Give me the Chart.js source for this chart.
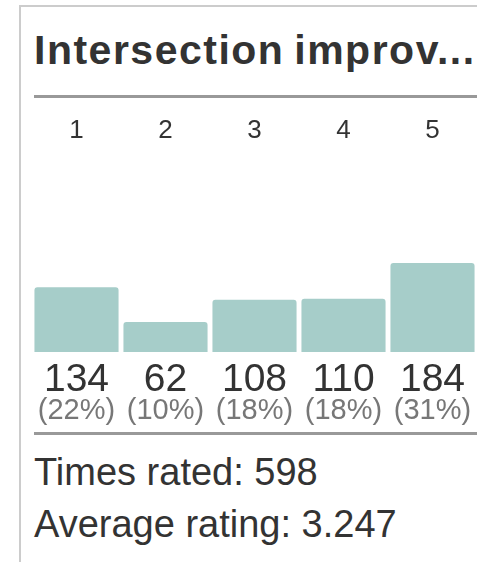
<!DOCTYPE html>
<html><head><meta charset="utf-8">
<script src="https://cdn.jsdelivr.net/npm/chart.js@4"></script>
<style>
html,body{margin:0;padding:0;background:#fff;width:477px;height:562px;overflow:hidden;font-family:"Liberation Sans",Arial,sans-serif;}
#frame{position:absolute;left:19px;top:5px;width:480px;height:600px;border-left:2px solid #ccc;border-top:2px solid #ccc;}
.t{position:absolute;left:34px;white-space:nowrap;line-height:1;color:#333;}
#title{top:30px;font-size:41px;font-weight:bold;letter-spacing:1.5px;word-spacing:-3px;}
.rule{position:absolute;left:34px;width:443px;height:3px;background:#999;}
#f1{top:453px;font-size:38px;}
#f2{top:504.5px;font-size:38px;}
#wrap{position:absolute;left:32px;top:100px;width:445px;height:330px;}
</style></head>
<body>
<div id="frame"></div>
<div class="t" id="title">Intersection improv...</div>
<div class="rule" style="top:95px"></div>
<div id="wrap"><canvas id="c" width="445" height="330"></canvas></div>
<div class="rule" style="top:432px"></div>
<div class="t" id="f1">Times rated: 598</div>
<div class="t" id="f2">Average rating: 3.247</div>
<script>
const categories = ["1", "2", "3", "4", "5"];
const counts = [134, 62, 108, 110, 184];
const pctLabels = ["(22%)", "(10%)", "(18%)", "(18%)", "(31%)"];

const valueLabels = {
  id: 'valueLabels',
  afterDatasetsDraw(chart) {
    const ctx = chart.ctx;
    const meta = chart.getDatasetMeta(0);
    const base = chart.chartArea.bottom;
    ctx.save();
    ctx.textAlign = 'center';
    ctx.textBaseline = 'alphabetic';
    meta.data.forEach((bar, i) => {
      ctx.fillStyle = '#333';
      ctx.font = '39px "Liberation Sans", Arial, sans-serif';
      ctx.fillText(String(counts[i]), bar.x, base + 39);
      ctx.fillStyle = '#777';
      ctx.font = '29px "Liberation Sans", Arial, sans-serif';
      ctx.fillText(pctLabels[i], bar.x, base + 67);
    });
    ctx.restore();
  }
};

new Chart(document.getElementById('c'), {
  type: 'bar',
  data: {
    labels: categories,
    datasets: [{
      data: counts,
      backgroundColor: '#a6cdc9',
      borderWidth: 0,
      borderRadius: 3,
      barPercentage: 0.945,
      categoryPercentage: 1.0
    }]
  },
  options: {
    responsive: false,
    animation: false,
    events: [],
    layout: { padding: { top: 12, bottom: 78, left: 0, right: 0 } },
    plugins: { legend: { display: false }, tooltip: { enabled: false } },
    scales: {
      x: {
        position: 'top',
        grid: { display: false, drawTicks: false },
        border: { display: false },
        ticks: { color: '#333', font: { family: '"Liberation Sans", Arial, sans-serif', size: 26 }, padding: 3 }
      },
      y: {
        display: false,
        min: 0,
        max: 419
      }
    }
  },
  plugins: [valueLabels]
});
</script>
</body></html>
